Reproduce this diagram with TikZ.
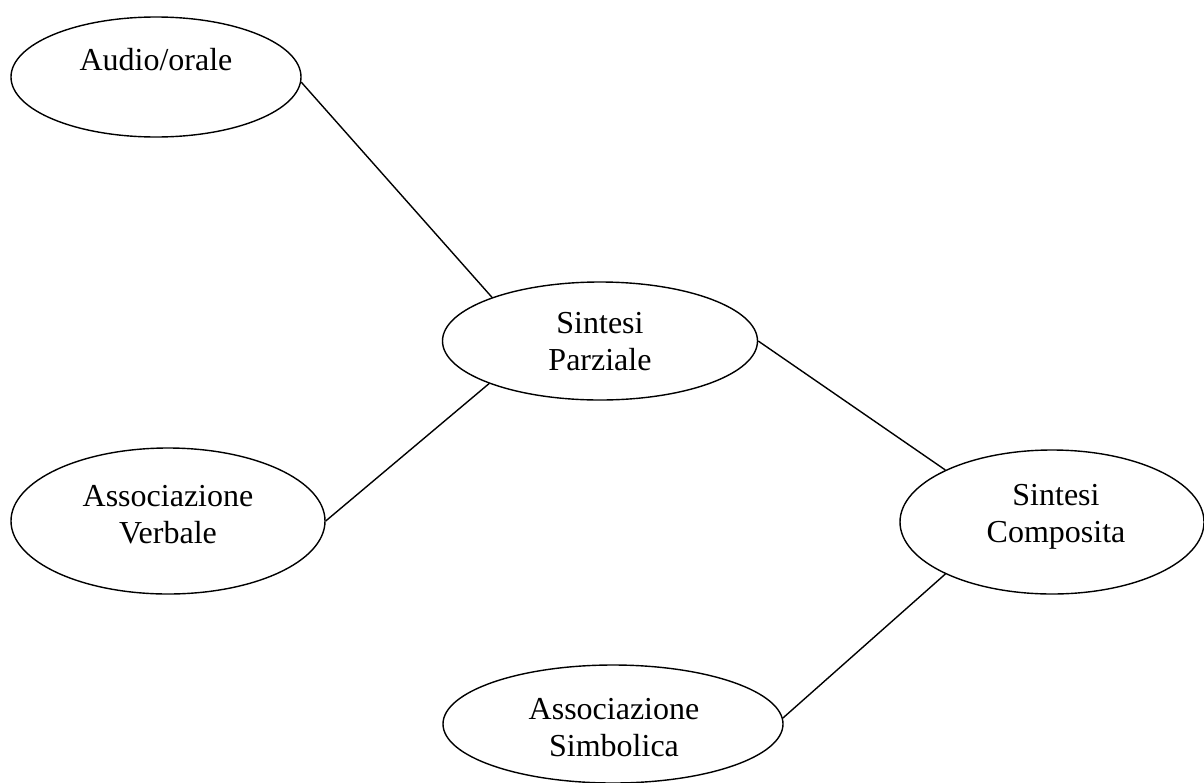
\documentclass[tikz,border=0pt]{standalone}
\usepackage{fontspec}
\setmainfont{Liberation Serif}
\usetikzlibrary{shapes.geometric}

\begin{document}
\begin{tikzpicture}[x=0.5pt,y=-0.5pt,
    oval/.style={draw,ellipse,line width=0.7pt,inner sep=0pt},
    txt/.style={align=center,inner sep=0pt,font=\fontsize{16}{18.5}\selectfont},
    link/.style={line width=0.7pt}]
  \useasboundingbox (0,0) rectangle (1204,782);
  % ellipses
  \node[oval,minimum width=145pt,minimum height=60pt]   (audio)     at (156,77)   {};
  \node[oval,minimum width=157.5pt,minimum height=59pt] (parziale)  at (600,341)  {};
  \node[oval,minimum width=157pt,minimum height=73pt]   (verbale)   at (168,521)  {};
  \node[oval,minimum width=152pt,minimum height=72pt]   (composita) at (1052,522) {};
  \node[oval,minimum width=170pt,minimum height=59pt]   (simbolica) at (613,724)  {};
  % texts
  \node[txt] (audio-t)     at (156,60)     {Audio/orale};
  \node[txt] (parziale-t)  at (600,342)    {Sintesi\\Parziale};
  \node[txt] (verbale-t)   at (168,514.5)  {Associazione\\Verbale};
  \node[txt] (composita-t) at (1056,516.5) {Sintesi\\Composita};
  \node[txt] (simbolica-t) at (614,727.5)  {Associazione\\Simbolica};
  % links
  \draw[link] (audio.-2)      -- (parziale.158);
  \draw[link] (parziale.-159) -- (verbale.0);
  \draw[link] (parziale.0)    -- (composita.154);
  \draw[link] (composita.-154) -- (simbolica.2);
\end{tikzpicture}
\end{document}
